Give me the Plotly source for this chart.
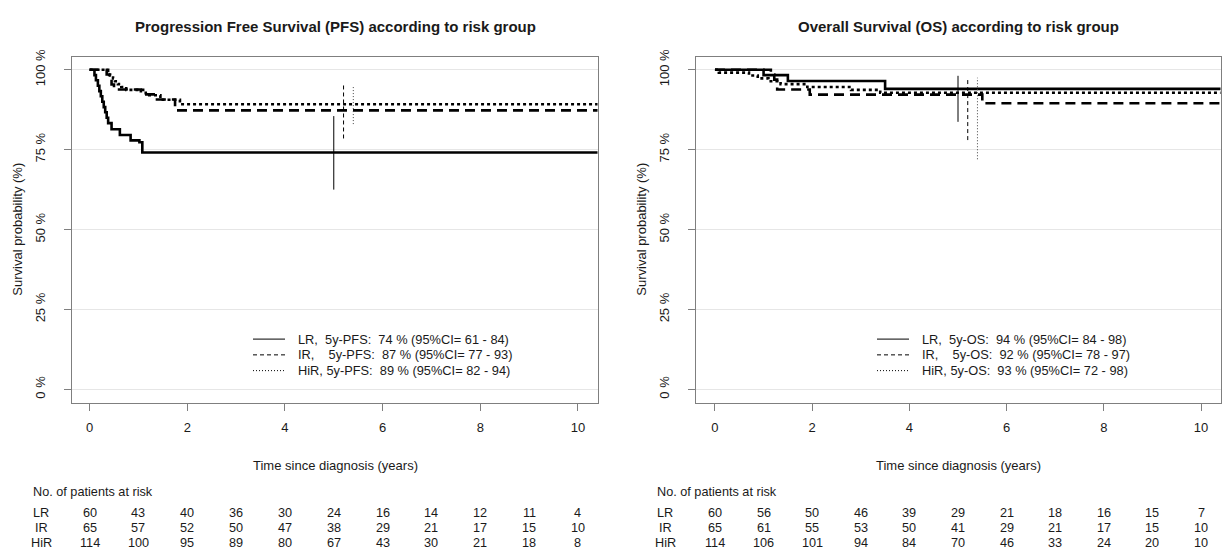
import plotly.graph_objects as go

# ---------------- data ----------------
years = [0, 1, 2, 3, 4, 5, 6, 7, 8, 9, 10]
groups = ["LR", "IR", "HiR"]

# PFS Kaplan-Meier steps (time in years, survival in %)
pfs_lr_t = [0, 0.10, 0.13, 0.17, 0.20, 0.23, 0.26, 0.29, 0.32, 0.35, 0.38, 0.45, 0.62, 0.84, 1.02, 1.08, 10.4]
pfs_lr_s = [100, 98.3, 96.7, 95.0, 93.3, 91.7, 90.0, 88.3, 86.7, 85.0, 83.3, 81.4, 79.6, 77.9, 77.3, 74.1, 74.1]
pfs_ir_t = [0, 0.35, 0.40, 0.45, 0.50, 1.05, 1.38, 1.75, 10.4]
pfs_ir_s = [100, 98.5, 96.9, 95.4, 93.8, 92.3, 90.7, 87.3, 87.3]
pfs_hir_t = [0, 0.38, 0.42, 0.48, 0.52, 0.58, 0.65, 0.75, 1.15, 1.45, 1.85, 10.4]
pfs_hir_s = [100, 99.1, 98.2, 97.3, 96.4, 95.5, 94.6, 93.7, 92.0, 90.6, 89.2, 89.2]

# OS Kaplan-Meier steps
os_lr_t = [0, 1.0, 1.5, 3.5, 10.4]
os_lr_s = [100, 98.3, 96.5, 94.0, 94.0]
os_ir_t = [0, 1.15, 1.22, 1.28, 1.95, 5.5, 10.4]
os_ir_s = [100, 98.5, 96.9, 93.8, 92.2, 89.5, 89.5]
os_hir_t = [0, 0.08, 0.7, 0.88, 1.1, 1.35, 1.9, 2.8, 3.4, 10.4]
os_hir_s = [100, 99.1, 98.2, 97.3, 96.4, 95.5, 94.6, 93.7, 92.8, 92.8]

# 5-year CI bars (x position, lower, upper)
pfs_ci_x = [5.0, 5.2, 5.4]
pfs_ci_lo = [62.5, 78.5, 83.0]
pfs_ci_hi = [85.5, 95.5, 94.7]
os_ci_x = [5.0, 5.2, 5.4]
os_ci_lo = [83.7, 78.0, 72.0]
os_ci_hi = [98.1, 97.0, 97.5]

pfs_legend = ["LR,\u00a0 5y-PFS:\u00a0 74 % (95%CI= 61 - 84)",
              "IR,\u00a0\u00a0\u00a0 5y-PFS:\u00a0 87 % (95%CI= 77 - 93)",
              "HiR, 5y-PFS:\u00a0 89 % (95%CI= 82 - 94)"]
os_legend = ["LR,\u00a0 5y-OS:\u00a0 94 % (95%CI= 84 - 98)",
             "IR,\u00a0\u00a0\u00a0 5y-OS:\u00a0 92 % (95%CI= 78 - 97)",
             "HiR, 5y-OS:\u00a0 93 % (95%CI= 72 - 98)"]

# numbers at risk at years 0..10
pfs_risk_lr = [60, 43, 40, 36, 30, 24, 16, 14, 12, 11, 4]
pfs_risk_ir = [65, 57, 52, 50, 47, 38, 29, 21, 17, 15, 10]
pfs_risk_hir = [114, 100, 95, 89, 80, 67, 43, 30, 21, 18, 8]
os_risk_lr = [60, 56, 50, 46, 39, 29, 21, 18, 16, 15, 7]
os_risk_ir = [65, 61, 55, 53, 50, 41, 29, 21, 17, 15, 10]
os_risk_hir = [114, 106, 101, 94, 84, 70, 46, 33, 24, 20, 10]

ytick_vals = [0, 25, 50, 75, 100]
ytick_text = ["0 %", "25 %", "50 %", "75 %", "100 %"]
xtick_vals = [0, 2, 4, 6, 8, 10]

# ---------------- layout helpers (pixel -> paper) ----------------
W, H = 1224, 549
def px(x):
    return x / W
def py(y):
    return 1 - y / H

FONT = "Liberation Sans, Arial, sans-serif"
TXT = "#1a1a1a"
dashes = ["solid", "10px,6px", "3px,3px"]
ci_dashes = ["solid", "4px,3px", "1px,2px"]

fig = go.Figure()

panels = [
    dict(xa="x", ya="y", xd=[72, 598],
         curves=[(pfs_lr_t, pfs_lr_s), (pfs_ir_t, pfs_ir_s), (pfs_hir_t, pfs_hir_s)],
         ci=(pfs_ci_x, pfs_ci_lo, pfs_ci_hi), legend=pfs_legend,
         risk=[pfs_risk_lr, pfs_risk_ir, pfs_risk_hir],
         title="Progression Free Survival (PFS) according to risk group",
         leg_x=253, lab_x=41, no_x=31),
    dict(xa="x2", ya="y2", xd=[696, 1221],
         curves=[(os_lr_t, os_lr_s), (os_ir_t, os_ir_s), (os_hir_t, os_hir_s)],
         ci=(os_ci_x, os_ci_lo, os_ci_hi), legend=os_legend,
         risk=[os_risk_lr, os_risk_ir, os_risk_hir],
         title="Overall Survival (OS) according to risk group",
         leg_x=877, lab_x=665, no_x=655),
]

annotations = []
shapes = []
for p in panels:
    for i, (t, s) in enumerate(p["curves"]):
        fig.add_trace(go.Scatter(x=t, y=s, mode="lines", line_shape="hv",
                                 line=dict(color="black", width=2.6, dash=dashes[i]),
                                 xaxis=p["xa"], yaxis=p["ya"], showlegend=False,
                                 hoverinfo="skip"))
    cx, clo, chi = p["ci"]
    for i in range(3):
        fig.add_trace(go.Scatter(x=[cx[i], cx[i]], y=[clo[i], chi[i]], mode="lines",
                                 line=dict(color="black" if i < 2 else "#444", width=1, dash=ci_dashes[i]),
                                 xaxis=p["xa"], yaxis=p["ya"], showlegend=False,
                                 hoverinfo="skip"))
    x0, x1 = p["xd"]
    xc = (x0 + x1) / 2
    # title
    annotations.append(dict(text="<b>" + p["title"] + "</b>", x=px(xc), y=py(19),
                            xref="paper", yref="paper", showarrow=False,
                            font=dict(size=15, family=FONT, color=TXT),
                            xanchor="center", yanchor="middle"))
    # y title
    annotations.append(dict(text="Survival probability (%)", x=px(x0 - 54), y=py(225),
                            xref="paper", yref="paper", showarrow=False, textangle=-90,
                            font=dict(size=13, family=FONT, color=TXT),
                            xanchor="center", yanchor="middle"))
    # x title
    annotations.append(dict(text="Time since diagnosis (years)", x=px(xc), y=py(464),
                            xref="paper", yref="paper", showarrow=False,
                            font=dict(size=13, family=FONT, color=TXT),
                            xanchor="center", yanchor="middle"))
    # legend
    for i, lab in enumerate(p["legend"]):
        yy = 336 + 16 * i
        shapes.append(dict(type="line", xref="paper", yref="paper",
                           x0=px(p["leg_x"]), x1=px(p["leg_x"] + 32), y0=py(yy), y1=py(yy),
                           line=dict(color="black", width=1, dash=ci_dashes[i] if i else "solid")))
        annotations.append(dict(text=lab, x=px(p["leg_x"] + 43), y=py(yy), xref="paper", yref="paper",
                                showarrow=False, xanchor="left", yanchor="middle",
                                font=dict(size=12.8, family=FONT, color=TXT)))
    # risk table
    annotations.append(dict(text="No. of patients at risk", x=px(p["no_x"]), y=py(491),
                            xref="paper", yref="paper", showarrow=False, xanchor="left",
                            yanchor="middle", font=dict(size=12.7, family=FONT, color=TXT)))
    for r, g in enumerate(groups):
        yy = 512 + 15.5 * r
        annotations.append(dict(text=g, x=px(p["lab_x"]), y=py(yy), xref="paper", yref="paper",
                                showarrow=False, xanchor="center", yanchor="middle",
                                font=dict(size=12.7, family=FONT, color=TXT)))
        for k, yr in enumerate(years):
            annotations.append(dict(text=str(p["risk"][r][k]), x=yr, y=py(yy),
                                    xref=p["xa"], yref="paper", showarrow=False,
                                    xanchor="center", yanchor="middle",
                                    font=dict(size=12.7, family=FONT, color=TXT)))

axis_common = dict(showline=True, linecolor="#7f7f7f", linewidth=1, mirror=True,
                   ticks="outside", ticklen=7, tickcolor="#7f7f7f", zeroline=False,
                   tickfont=dict(size=13, family=FONT, color=TXT))

fig.update_layout(
    width=W, height=H, autosize=False,
    margin=dict(l=0, r=0, t=0, b=0),
    paper_bgcolor="white", plot_bgcolor="white",
    xaxis=dict(domain=[px(72), px(598)], range=[-0.36, 10.41], tickvals=xtick_vals,
               showgrid=False, anchor="y", ticklabelstandoff=5, **axis_common),
    yaxis=dict(domain=[py(401), py(50)], range=[-4.3, 103.9], tickvals=ytick_vals,
               ticktext=ytick_text, tickangle=-90, showgrid=True, gridcolor="#e6e6e6",
               anchor="x", ticklabelstandoff=14, **axis_common),
    xaxis2=dict(domain=[px(696), px(1221)], range=[-0.39, 10.41], tickvals=xtick_vals,
                showgrid=False, anchor="y2", ticklabelstandoff=5, **axis_common),
    yaxis2=dict(domain=[py(401), py(50)], range=[-4.3, 103.9], tickvals=ytick_vals,
                ticktext=ytick_text, tickangle=-90, showgrid=True, gridcolor="#e6e6e6",
                anchor="x2", ticklabelstandoff=14, **axis_common),
    annotations=annotations, shapes=shapes, showlegend=False,
)

fig.write_html("out.html", config={"displayModeBar": False},
               post_script="document.body.style.margin='0px';document.body.style.padding='0px';")
